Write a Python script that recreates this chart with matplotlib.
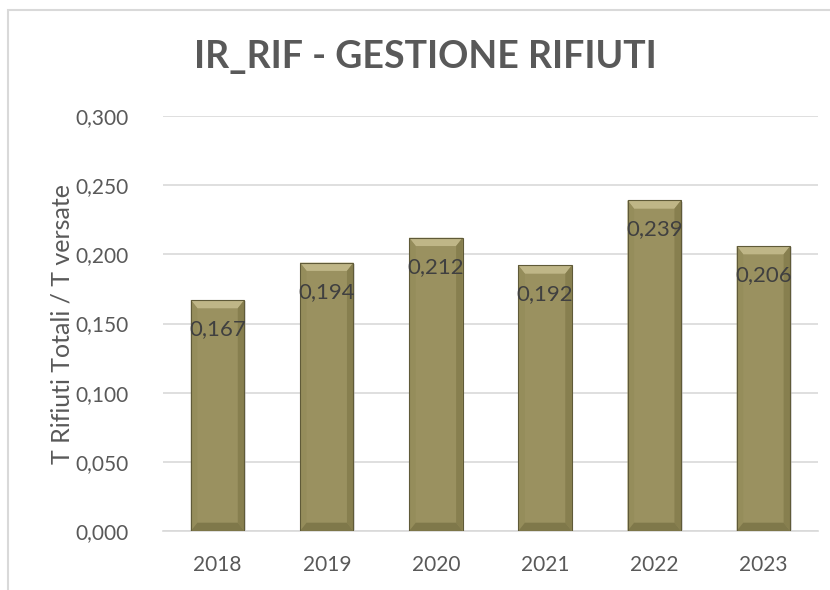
import matplotlib
matplotlib.use("Agg")
import matplotlib.pyplot as plt
from matplotlib.patches import Rectangle, Polygon

years = ["2018", "2019", "2020", "2021", "2022", "2023"]
values = [0.167, 0.194, 0.212, 0.192, 0.239, 0.206]
value_labels = ["0,167", "0,194", "0,212", "0,192", "0,239", "0,206"]
yticks = [0.0, 0.05, 0.10, 0.15, 0.20, 0.25, 0.30]
ytick_labels = ["0,000", "0,050", "0,100", "0,150", "0,200", "0,250", "0,300"]

plt.rcParams['font.family'] = ["Lato", "DejaVu Sans"]

W, H = 830, 590
fig = plt.figure(figsize=(W / 100, H / 100), dpi=100)
fig.patches.append(Rectangle((8 / W, -0.1), 1.2, (H - 10) / H + 0.1, transform=fig.transFigure,
                             fill=False, edgecolor="#d9d9d9", linewidth=1.5, zorder=0))

ax = fig.add_axes([163 / W, (H - 531) / H, (818 - 163) / W, (531 - 116) / H])
ax.set_xlim(-0.5, len(years) - 0.5)
ax.set_ylim(0, 0.3)

bw = 0.49
bx = 0.06
by = 0.006
for i, v in enumerate(values):
    x0, x1 = i - bw / 2, i + bw / 2
    # shadow
    ax.add_patch(Rectangle((x0 + 0.014, -0.001), bw, v, facecolor="#b5b5b5", edgecolor="none", alpha=0.45, zorder=2))
    ax.add_patch(Rectangle((x0, 0), bw, v, facecolor="#9a9160", edgecolor="none", zorder=3))
    # top bevel
    ax.add_patch(Polygon([(x0, v), (x1, v), (x1 - bx, v - by), (x0 + bx, v - by)], closed=True,
                         facecolor="#bfb687", edgecolor="none", zorder=4))
    # left bevel
    ax.add_patch(Polygon([(x0, v), (x0 + bx, v - by), (x0 + bx, by), (x0, 0)], closed=True,
                         facecolor="#958d5b", edgecolor="none", zorder=4))
    # right bevel
    ax.add_patch(Polygon([(x1, v), (x1 - bx, v - by), (x1 - bx, by), (x1, 0)], closed=True,
                         facecolor="#877f4f", edgecolor="none", zorder=4))
    # bottom bevel
    ax.add_patch(Polygon([(x0, 0), (x1, 0), (x1 - bx, by), (x0 + bx, by)], closed=True,
                         facecolor="#7f784a", edgecolor="none", zorder=4))
    ax.add_patch(Rectangle((x0, 0), bw, v, fill=False, edgecolor="#5f5a38", linewidth=0.8, zorder=5))
    ax.text(i, v - 0.021, value_labels[i], ha="center", va="center", fontsize=16,
            color="#404040", zorder=6)

ax.set_yticks(yticks)
ax.set_yticklabels(ytick_labels)
ax.set_xticks(range(len(years)))
ax.set_xticklabels(years)
ax.tick_params(axis="both", length=0, labelsize=15, colors="#595959")
ax.tick_params(axis="y", pad=25)
ax.tick_params(axis="x", pad=17)
ax.grid(axis="y", color="#d9d9d9", linewidth=1.2, zorder=0)
ax.set_axisbelow(True)
for s in ["top", "right", "left"]:
    ax.spines[s].set_visible(False)
ax.spines["bottom"].set_color("#d9d9d9")
ax.spines["bottom"].set_linewidth(1.2)

ax.set_ylabel("T Rifiuti Totali / T versate", fontsize=18, color="#595959")
ax.yaxis.set_label_coords(-0.136, 0.5)
fig.text(425 / W, 1 - 57 / H, "IR_RIF - GESTIONE RIFIUTI", ha="center", va="center",
         fontsize=27, fontweight="bold", color="#595959")

fig.savefig("out.png", dpi=100)
